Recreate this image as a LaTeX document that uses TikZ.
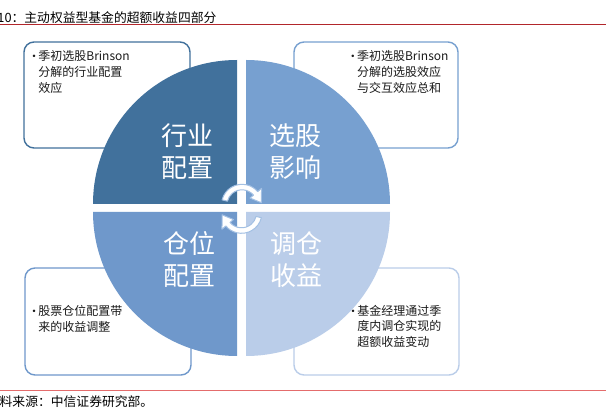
\documentclass[tikz,border=0pt]{standalone}
\usepackage{fontspec}
\setmainfont{Noto Sans CJK SC}
\newfontfamily\dejavu{DejaVu Sans}
\usetikzlibrary{calc}
\definecolor{qa}{HTML}{41719C}
\definecolor{qb}{HTML}{77A0D0}
\definecolor{qc}{HTML}{6F98CB}
\definecolor{qd}{HTML}{BACDE9}
\definecolor{arrowline}{HTML}{A3C0E3}
\definecolor{titlered}{HTML}{B2262B}
\definecolor{footred}{HTML}{E46C6C}
\definecolor{bodytext}{HTML}{1A1A1A}
\newcommand\bul{\makebox[6.2pt][l]{\hspace*{-0.6pt}\raisebox{1.6pt}{\dejavu\fontsize{8.5}{8.5}\selectfont •}}}
\newcommand\ind{\makebox[6.2pt]{}}
\begin{document}
\begin{tikzpicture}[x=1pt,y=1pt,
  infobox/.style={draw, line width=1.4pt, rounded corners=10pt, fill=white},
  boxtext/.style={anchor=north west, inner sep=0pt, align=left, text=bodytext,
    font=\fontsize{12}{16}\selectfont},
  quadlabel/.style={anchor=center, inner sep=0pt, align=center, text=white,
    font=\fontsize{26}{32}\selectfont},
  cyclearrow/.style={fill=white, draw=arrowline, line width=1pt, line join=round}]
\useasboundingbox (0,0) rectangle (606,410);
\fill[white] (0,0) rectangle (606,410);

% title and footer
\node[anchor=base west, inner sep=0pt, font=\fontsize{12.8}{14}\selectfont] (title) at (-2.8,387.7) {10：主动权益型基金的超额收益四部分};
\draw[titlered, line width=1pt] (0,385.5) -- (606,385.5);
\draw[footred, line width=1.3pt] (0,19.5) -- (606,19.5);
\node[anchor=base west, inner sep=0pt, font=\fontsize{12.8}{14}\selectfont] (source) at (-0.5,3.6) {料来源：中信证券研究部。};

% info boxes
\draw[infobox, draw=qa] (24,262) rectangle (190,368);
\draw[infobox, draw=qb] (294,262) rectangle (458,368);
\draw[infobox, draw=qc] (25,35) rectangle (191,142);
\draw[infobox, draw=qd] (294,35) rectangle (459,142);

\node[boxtext] (ta) at (32,359.4) {\bul 季初选股Brinson\\\ind 分解的行业配置\\\ind 效应};
\node[boxtext] (tb) at (350.7,359.4) {\bul 季初选股Brinson\\\ind 分解的选股效应\\\ind 与交互效应总和};
\node[boxtext] (tc) at (32,104.7) {\bul 股票仓位配置带\\\ind 来的收益调整};
\node[boxtext, font=\fontsize{12}{15.2}\selectfont] (td) at (351,104.7) {\bul 基金经理通过季\\\ind 度内调仓实现的\\\ind 超额收益变动};

% quadrants
\fill[qa] (237,206) -- ++(180:144) arc[start angle=180, end angle=90, radius=144] -- cycle;
\fill[qb] (246,206) -- ++(0:144) arc[start angle=0, end angle=90, radius=144] -- cycle;
\fill[qc] (237,198) -- ++(180:144) arc[start angle=180, end angle=270, radius=144] -- cycle;
\fill[qd] (246,198) -- ++(0:144) arc[start angle=0, end angle=-90, radius=144] -- cycle;

\node[quadlabel] (qla) at (187.5,258) {行业\\配置};
\node[quadlabel] (qlb) at (295,258) {选股\\影响};
\node[quadlabel] (qlc) at (189,150.5) {仓位\\配置};
\node[quadlabel] (qld) at (296.7,150.5) {调仓\\收益};

% cycle arrows
\coordinate (T) at (242,205.2);
\coordinate (B) at (241.5,197.2);
\draw[cyclearrow] ($(T)+(166:20.5)$) arc[start angle=166, end angle=40, radius=20.5]
  -- ($(T)+(40:25.5)$) -- ($(T)+(6:19.5)$) -- ($(T)+(40:10.5)$) -- ($(T)+(40:15)$)
  arc[start angle=40, end angle=166, radius=15] -- cycle;
\draw[cyclearrow] ($(B)+(-14:20.5)$) arc[start angle=-14, end angle=-140, radius=20.5]
  -- ($(B)+(-140:25.5)$) -- ($(B)+(-174:19.5)$) -- ($(B)+(-140:10.5)$) -- ($(B)+(-140:15)$)
  arc[start angle=-140, end angle=-14, radius=15] -- cycle;
\end{tikzpicture}
\end{document}
